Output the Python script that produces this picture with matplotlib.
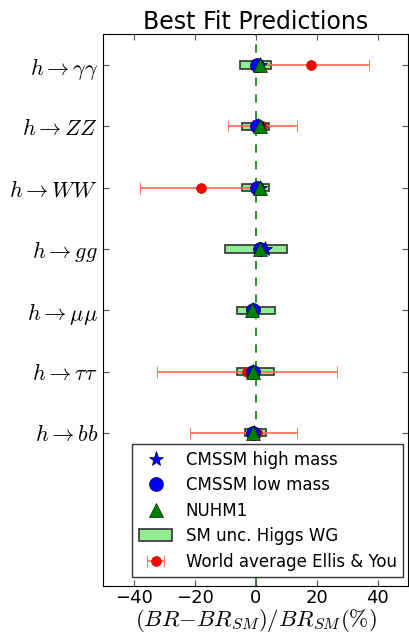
import numpy as np
import matplotlib
matplotlib.use('Agg')
import matplotlib.pyplot as plt

plt.rcParams['mathtext.fontset'] = 'cm'

channels = [r'$h \rightarrow \gamma\gamma$', r'$h \rightarrow ZZ$', r'$h \rightarrow WW$',
            r'$h \rightarrow gg$', r'$h \rightarrow \mu\mu$', r'$h \rightarrow \tau\tau$',
            r'$h \rightarrow bb$']

# model predictions, deviation from SM in %
cmssm_high = [1.5, 0.8, 1.5, 3.0, -1.0, -0.8, -0.5]
cmssm_low = [0.4, 0.4, 0.5, 1.5, -1.0, -0.8, -1.0]
nuhm1 = [1.5, 1.5, 1.5, 1.5, -1.2, -0.8, -0.8]

# SM theory uncertainty (half widths)
sm_unc = [5.0, 4.5, 4.5, 10.2, 6.2, 6.0, 3.4]

# world average Ellis & You (only for some channels)
wa_idx = [0, 1, 2, 5, 6]
wa_val = [18.0, 2.0, -18.0, -2.8, 0.4]
wa_lo = [19.0, 11.0, 20.0, 29.5, 22.0]
wa_hi = [19.0, 11.5, 20.0, 29.5, 13.3]

ypos = np.arange(len(channels))[::-1]

fig = plt.figure(figsize=(4.09, 6.34), dpi=100)
ax = fig.add_axes([0.252, 0.0757, 0.746, 0.870])

ax.axvline(0, color='g', ls='--', lw=1.2, dashes=(5, 5), zorder=1)

ax.barh(ypos, [2 * u for u in sm_unc], left=[-u for u in sm_unc], height=0.12,
        color='lightgreen', edgecolor='#333333', lw=1.2, zorder=2,
        label='SM unc. Higgs WG')

ax.errorbar(wa_val, ypos[wa_idx], xerr=[wa_lo, wa_hi], fmt='o', color='red',
            ecolor='#ff6a55', elinewidth=1.2, capsize=4, capthick=1.2,
            ms=7, mec='#aa2200', mew=0.6, zorder=3,
            label='World average Ellis & You')

ax.plot(cmssm_high, ypos, '*', color='b', ms=11, mec='#000044', mew=0.5,
        ls='none', zorder=4, label='CMSSM high mass')
ax.plot(cmssm_low, ypos, 'o', color='b', ms=10, mec='#000044', mew=0.5,
        ls='none', zorder=5, label='CMSSM low mass')
ax.plot(nuhm1, ypos, '^', color='g', ms=10, mec='#002200', mew=0.5,
        ls='none', zorder=6, label='NUHM1')

ax.set_xlim(-50, 50)
ax.set_ylim(-2.5, 6.5)
ax.set_yticks(ypos)
ax.set_yticklabels(channels, fontsize=16)
ax.set_xticks([-40, -20, 0, 20, 40])
ax.tick_params(axis='x', labelsize=13, pad=2)
ax.tick_params(direction='in', top=True, right=True, length=4, color='#555555')
ax.set_xlabel(r'$(BR{-}BR_{SM})/BR_{SM}(\%)$', fontsize=16.5, labelpad=0)
ax.set_title('Best Fit Predictions', fontsize=17, pad=4)

leg = ax.legend(loc='lower right', bbox_to_anchor=(0.984, 0.016), borderaxespad=0,
                numpoints=1, fontsize=12, fancybox=False, framealpha=1,
                handlelength=2, labelspacing=0.45)
leg.get_frame().set_edgecolor('#333333')

fig.savefig('out.png', dpi=100)
